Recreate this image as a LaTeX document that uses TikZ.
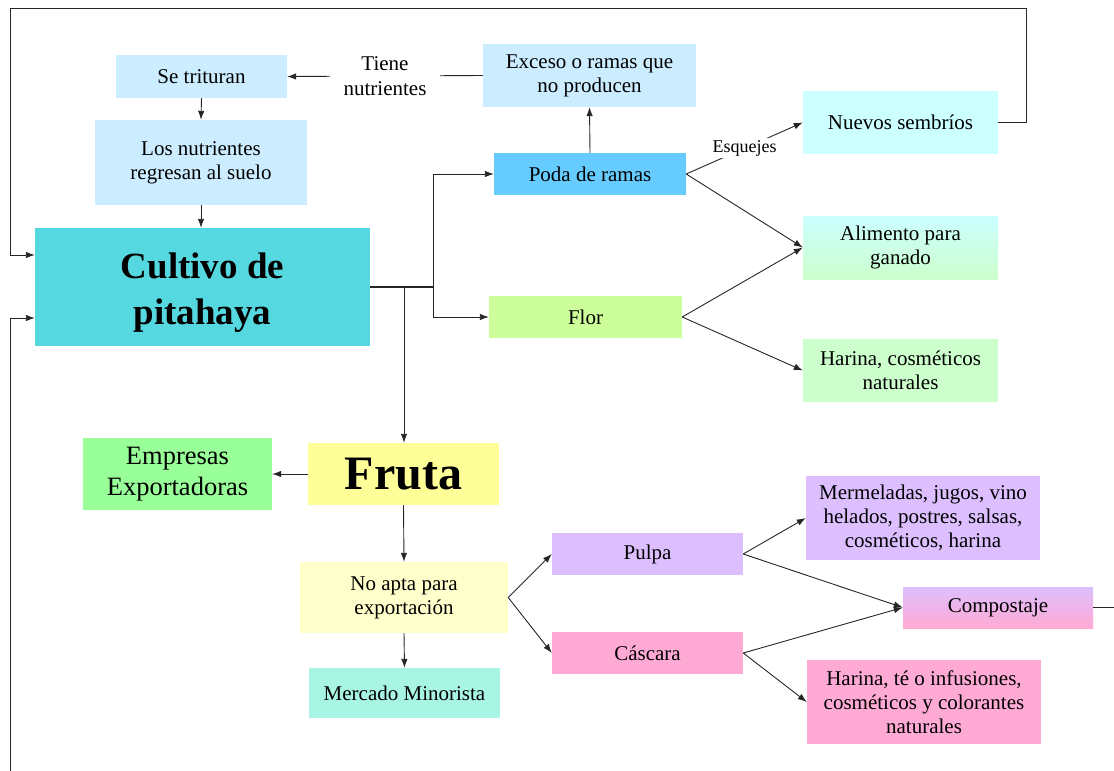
\documentclass[tikz,border=0pt]{standalone}
\usepackage{fontspec}
\setmainfont{Liberation Serif}
\usetikzlibrary{arrows.meta,calc}
\definecolor{skyL}{RGB}{204,236,255}
\definecolor{skyM}{RGB}{102,204,255}
\definecolor{turq}{RGB}{85,216,223}
\definecolor{limeL}{RGB}{204,255,153}
\definecolor{cyanL}{RGB}{204,255,255}
\definecolor{mintL}{RGB}{204,255,204}
\definecolor{greenM}{RGB}{153,255,153}
\definecolor{yellowM}{RGB}{255,255,153}
\definecolor{yellowL}{RGB}{255,255,204}
\definecolor{aquaL}{RGB}{168,245,227}
\definecolor{lilac}{RGB}{221,191,255}
\definecolor{rose}{RGB}{255,170,212}
\begin{document}
\begin{tikzpicture}[x=1pt,y=-1pt,>={Latex[length=9pt,width=6.5pt]},
  box/.style={inner sep=0pt,align=center,font=\fontsize{21}{24}\selectfont},
  conn/.style={draw=black!85,line width=0.9pt},
  lbl/.style={fill=white,inner sep=2pt,align=center}]
\useasboundingbox (0,0) rectangle (1114,771);
\node[box,fill=skyL,minimum width=171pt,minimum height=43pt] (trit) at (201.5,76.5) {Se trituran};
\node[box,fill=skyL,minimum width=212pt,minimum height=85pt] (nutr) at (201,162.5) {Los nutrientes\\regresan al suelo};
\node[box,fill=turq,minimum width=335pt,minimum height=118pt,font=\fontsize{37}{46}\selectfont\bfseries] (cult) at (202.5,287) {\raisebox{-5pt}[\height][\depth]{\begin{tabular}{@{}c@{}}Cultivo de\\pitahaya\end{tabular}}};
\node[box,fill=skyL,minimum width=213pt,minimum height=63pt] (exceso) at (589.5,75.5) {Exceso o ramas que\\no producen};
\node[box,fill=skyM,minimum width=192pt,minimum height=42pt] (poda) at (590,174) {Poda de ramas};
\node[box,fill=limeL,minimum width=193pt,minimum height=42pt] (flor) at (585.5,317) {Flor};
\node[box,fill=cyanL,minimum width=195pt,minimum height=63pt] (nuevos) at (900.5,122.5) {Nuevos sembríos};
\node[box,top color=cyanL,bottom color=mintL,minimum width=195pt,minimum height=63pt] (alim) at (900.5,247.5) {Alimento para\\ganado};
\node[box,fill=mintL,minimum width=195pt,minimum height=63pt] (harflor) at (900.5,370.5) {Harina, cosméticos\\naturales};
\node[box,fill=greenM,minimum width=189pt,minimum height=72pt,font=\fontsize{26.5}{31}\selectfont] (empr) at (177.5,474) {Empresas\\Exportadoras};
\node[box,fill=yellowM,minimum width=191pt,minimum height=62pt,font=\fontsize{48}{50}\selectfont\bfseries] (fruta) at (403.5,474) {Fruta};
\node[box,fill=yellowL,minimum width=208pt,minimum height=71pt] (noapta) at (404,597.5) {No apta para\\exportación};
\node[box,fill=aquaL,minimum width=191pt,minimum height=50pt] (merc) at (404.5,693) {Mercado Minorista};
\node[box,fill=lilac,minimum width=191pt,minimum height=42pt] (pulpa) at (647.5,554) {Pulpa};
\node[box,fill=rose,minimum width=191pt,minimum height=42pt] (casc) at (647.5,653) {Cáscara};
\node[box,fill=lilac,minimum width=234pt,minimum height=84pt] (merm) at (923,518) {Mermeladas, jugos, vino\\helados, postres, salsas,\\cosméticos, harina};
\node[box,top color=lilac,bottom color=rose,minimum width=190pt,minimum height=41pt] (compost) at (998,607.5) {Compostaje};
\node[box,fill=rose,minimum width=234pt,minimum height=84pt] (harcasc) at (924,702) {Harina, té o infusiones,\\cosméticos y colorantes\\naturales};
\coordinate (jn) at (433,287);
\coordinate (fj) at (404,287);
\coordinate (lbot) at (10,771);
\coordinate (rend) at (1114,607);
\draw[conn,->] (exceso.west) -- node[lbl,inner xsep=14pt,font=\fontsize{21}{25}\selectfont]{Tiene\\nutrientes} (trit.east);
\draw[conn,->] (trit.south) -- (nutr.north);
\draw[conn,->] (nutr.south) -- (nutr.south |- cult.north);
\draw[conn,line width=1.6pt] (cult.east) -- (jn);
\draw[conn,->] (jn) |- (poda.west);
\draw[conn,->] (jn) |- (flor.west);
\draw[conn,->] (fj) -- (fj |- fruta.north);
\draw[conn,->] (poda.north) -- (exceso.south);
\draw[conn,->] (poda.east) -- node[lbl,font=\fontsize{18}{20}\selectfont]{Esquejes} (nuevos.west);
\draw[conn,->] (poda.east) -- (alim.west);
\draw[conn,->] (flor.east) -- (alim.west);
\draw[conn,->] (flor.east) -- (harflor.west);
\draw[conn,->] (nuevos.east) -- ++(28,0) |- (10,8) |- ($(cult.west)+(0,-32)$);
\draw[conn,->] (lbot) |- ($(cult.west)+(0,31)$);
\draw[conn,->] (fruta.west) -- (empr.east);
\draw[conn,->] (fruta.south) -- (noapta.north);
\draw[conn,->] (noapta.south) -- (merc.north);
\draw[conn,->] (noapta.east) -- (pulpa.west);
\draw[conn,->] (noapta.east) -- (casc.west);
\draw[conn,->] (pulpa.east) -- (merm.west);
\draw[conn,->] (pulpa.east) -- (compost.west);
\draw[conn,->] (casc.east) -- (compost.west);
\draw[conn,->] (casc.east) -- (harcasc.west);
\draw[conn] (compost.east) -- (compost.east -| rend);
\end{tikzpicture}
\end{document}
